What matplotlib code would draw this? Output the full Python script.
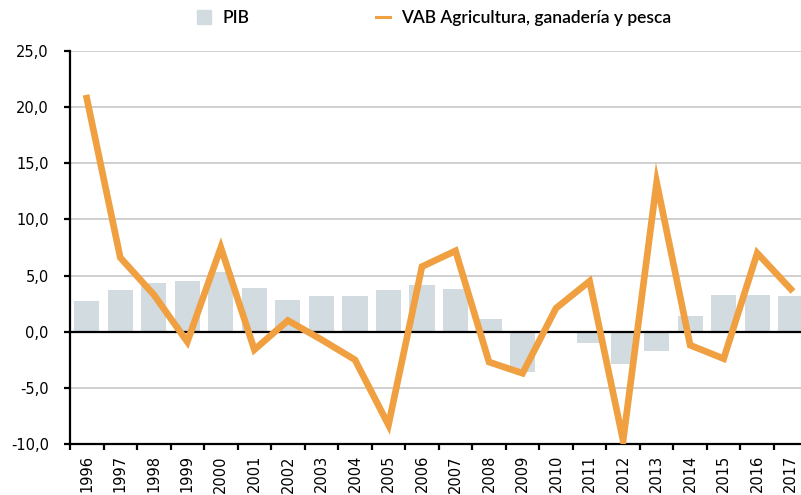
import numpy as np
import matplotlib.pyplot as plt
from matplotlib.lines import Line2D
from matplotlib.patches import Patch

plt.rcParams['font.family'] = ['DejaVu Sans']

years = [str(y) for y in range(1996, 2018)]

pib = [2.7, 3.7, 4.3, 4.5, 5.3, 3.9, 2.8, 3.2, 3.2, 3.7, 4.2, 3.8,
       1.1, -3.6, 0.0, -1.0, -2.9, -1.7, 1.4, 3.3, 3.3, 3.2]

vab = [20.8, 6.6, 3.3, -0.9, 7.5, -1.6, 1.0, -0.7, -2.5, -8.3, 5.8, 7.2,
       -2.7, -3.7, 2.1, 4.5, -9.7, 13.3, -1.2, -2.4, 7.0, 3.8]

bar_color = "#d2dbe0"
line_color = "#f0a040"

fig = plt.figure(figsize=(8.01, 4.95), dpi=100)
# the right-most category is cut by the edge of the picture, as in the original
ax = fig.add_axes([70 / 801, 51 / 495 * 0 + (495 - 444) / 495, 737.5 / 801, 393 / 495])

x = np.arange(len(years))
ax.bar(x, pib, width=0.75, color=bar_color, zorder=2)
ax.plot(x, vab, color=line_color, linewidth=4.8, solid_joinstyle="miter", zorder=4)

ax.axhline(0, color="black", linewidth=1.6, zorder=3)

ax.set_xlim(-0.5, len(years) - 0.5)
ax.set_ylim(-10, 25)
yt = np.arange(-10, 26, 5)
ax.set_yticks(yt)
ax.set_yticklabels([f"{v:.1f}".replace(".", ",") for v in yt], fontsize=10.5)
for v in yt:
    if v not in (0, -10):
        ax.axhline(v, color="#c8c8c8", linewidth=1.2, zorder=1)

# year labels at the centres, tick marks on the boundaries
ax.set_xticks(x)
ax.set_xticklabels(years, rotation=90, fontsize=10.5)
ax.tick_params(axis="x", which="major", length=0, pad=8)
ax.set_xticks(np.arange(-0.5, len(years), 1), minor=True)
ax.tick_params(axis="x", which="minor", length=4, width=1.6, direction="out")
ax.tick_params(axis="y", length=4.3, width=1.6, direction="out", pad=11)

for side in ("top", "right"):
    ax.spines[side].set_visible(False)
ax.spines["left"].set_linewidth(1.6)
ax.spines["bottom"].set_linewidth(1.6)

handles = [Patch(color=bar_color, label="PIB"),
           Line2D([0], [0], color=line_color, linewidth=2.2, label="VAB Agricultura, ganadería y pesca")]
fig.legend(handles=handles, loc="center", bbox_to_anchor=(0.542, 1 - 18 / 495), ncol=2,
           frameon=False, prop={"family": "Lato", "size": 12.5, "weight": 600},
           handlelength=0.8, handleheight=0.8, columnspacing=7.3, handletextpad=0.63,
           borderpad=0, borderaxespad=0)

fig.savefig("out.png", dpi=100)
